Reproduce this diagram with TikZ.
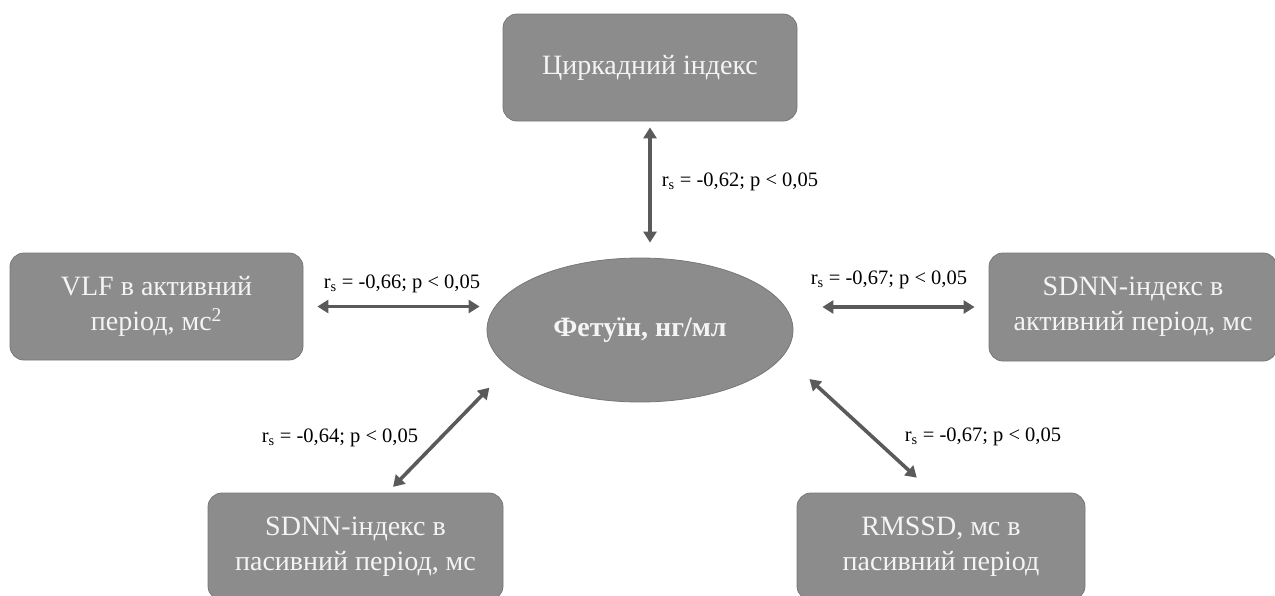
\documentclass[tikz,border=0pt]{standalone}
\usepackage{fontspec}
\setmainfont{Liberation Serif}
\usepackage{tikz}
\usetikzlibrary{arrows.meta,shapes.geometric}

\definecolor{gris}{HTML}{8C8C8C}
\definecolor{contour}{HTML}{777777}
\definecolor{fleche}{HTML}{5A5A5A}
\definecolor{blanc}{HTML}{F4F4F4}

\begin{document}
\begin{tikzpicture}[x=1pt, y=-1pt,
    bloc/.style={draw=contour, fill=gris, rounded corners=14pt, line width=0.8pt,
      text=blanc, align=center, inner sep=0pt, font=\fontsize{28}{35}\selectfont},
    centre/.style={ellipse, draw=contour, fill=gris, line width=0.8pt, inner sep=0pt,
      text=blanc, font=\fontsize{28}{32}\selectfont\bfseries},
    lien/.style={draw=fleche, line width=3.6pt,
      {Triangle[length=11pt,width=13pt]}-{Triangle[length=11pt,width=13pt]}},
    coef/.style={inner sep=0pt, font=\fontsize{20.5}{24}\selectfont}]
    \useasboundingbox (0,0) rectangle (1275,595);
    % Blocs
    \node[centre, minimum width=306pt, minimum height=144pt] at (640,330) (fet) {Фетуїн, нг/мл};
    \node[bloc, minimum width=294pt, minimum height=107pt] at (650,67.5) (circ) {Циркадний індекс};
    \node[bloc, minimum width=293pt, minimum height=107pt] at (156.5,306.5) (vlf) {VLF в активний\\період, мс\textsuperscript{2}};
    \node[bloc, minimum width=288pt, minimum height=108pt] at (1133,307) (sdnna) {SDNN-індекс в\\активний період, мс};
    \node[bloc, minimum width=295pt, minimum height=107pt] at (355.5,546.5) (sdnnp) {SDNN-індекс в\\пасивний період, мс};
    \node[bloc, minimum width=288pt, minimum height=107pt] at (941,546.5) (rmssd) {RMSSD, мс в\\пасивний період};
    % Liens
    \path (circ.south) edge[lien, shorten <=6pt, shorten >=15pt] (circ.south |- fet.north);
    \path (vlf.east) edge[lien, shorten <=14pt, shorten >=7pt] (vlf.east -| fet.west);
    \path (sdnna.west -| fet.east) edge[lien, shorten <=29pt, shorten >=14pt] (sdnna.west);
    \path ([xshift=32pt]sdnnp.north) edge[lien, shorten <=8pt, shorten >=28pt] (fet.196);
    \path (fet.350) edge[lien, shorten <=35pt, shorten >=22pt] ([xshift=-8pt]rmssd.north);
    % Coefficients
    \node[coef] at (740,182) (k1) {r\textsubscript{s} = -0,62;\ p < 0,05};
    \node[coef] at (402,284) (k2) {r\textsubscript{s} = -0,66;\ p < 0,05};
    \node[coef] at (889,280) (k3) {r\textsubscript{s} = -0,67;\ p < 0,05};
    \node[coef] at (340,438) (k4) {r\textsubscript{s} = -0,64;\ p < 0,05};
    \node[coef] at (983,437) (k5) {r\textsubscript{s} = -0,67;\ p < 0,05};
\end{tikzpicture}
\end{document}
